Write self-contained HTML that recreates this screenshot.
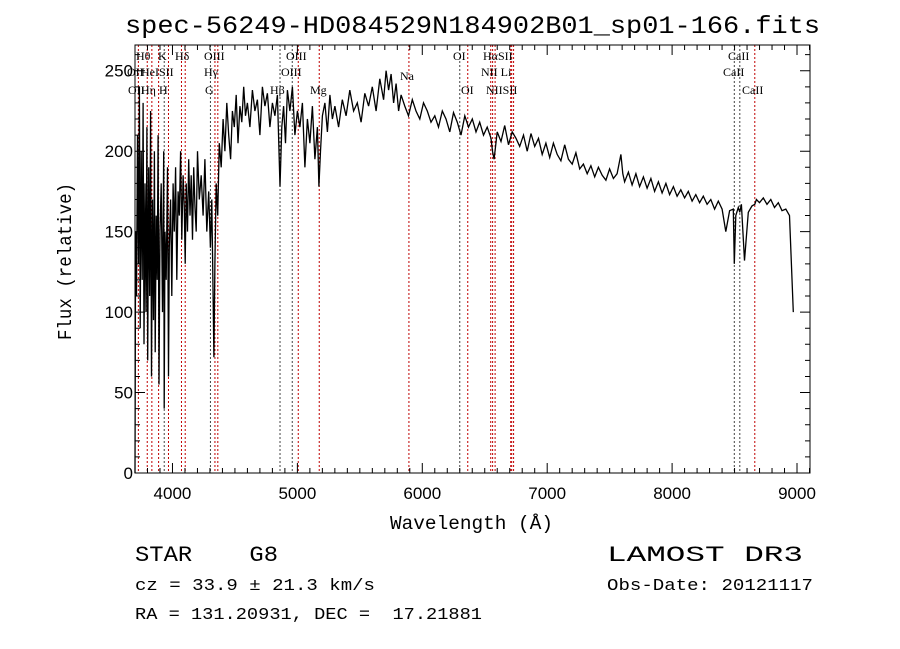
<!DOCTYPE html>
<html><head><meta charset="utf-8"><style>
body{margin:0;background:#fff;}
svg{display:block;}
text{white-space:pre;}
</style></head><body>
<svg id="chart" width="900" height="649" xmlns="http://www.w3.org/2000/svg" font-family="Liberation Sans, sans-serif">
<rect width="900" height="649" fill="#fff"/>
<text x="125" y="33" font-size="25" font-family="Liberation Mono, monospace" textLength="695" lengthAdjust="spacingAndGlyphs">spec-56249-HD084529N184902B01_sp01-166.fits</text>
<text x="390" y="529" font-size="19" font-family="Liberation Mono, monospace" textLength="163" lengthAdjust="spacingAndGlyphs">Wavelength (Å)</text>
<text transform="translate(71,340) rotate(-90)" font-size="19" font-family="Liberation Mono, monospace" textLength="157" lengthAdjust="spacingAndGlyphs">Flux (relative)</text>
<g id="lines"></g>
<g id="labels" font-family="Liberation Serif, serif" font-size="12"></g>
<path id="spec" fill="none" stroke="#000" stroke-width="1.3"/>
<g id="axes"></g>
<text x="135" y="561" font-size="22" font-family="Liberation Mono, monospace" textLength="143" lengthAdjust="spacingAndGlyphs">STAR    G8</text>
<text x="135" y="590" font-size="17" font-family="Liberation Mono, monospace" textLength="240" lengthAdjust="spacingAndGlyphs">cz = 33.9 ± 21.3 km/s</text>
<text x="135" y="619" font-size="17" font-family="Liberation Mono, monospace" textLength="347" lengthAdjust="spacingAndGlyphs">RA = 131.20931, DEC =  17.21881</text>
<text x="607" y="561" font-size="22" font-family="Liberation Mono, monospace" textLength="196" lengthAdjust="spacingAndGlyphs">LAMOST DR3</text>
<text x="607" y="590" font-size="17" font-family="Liberation Mono, monospace" textLength="206" lengthAdjust="spacingAndGlyphs">Obs-Date: 20121117</text>
</svg>
<script>
const wave = [3700,3705,3712,3720,3728,3735,3742,3750,3758,3765,3772,3780,3788,3795,3802,3810,3818,3825,3832,3840,3848,3855,3862,3870,3878,3885,3892,3900,3910,3920,3930,3934,3940,3950,3960,3968,3975,3985,3995,4005,4015,4025,4035,4045,4055,4065,4075,4085,4095,4102,4110,4120,4130,4140,4150,4160,4170,4180,4190,4200,4215,4230,4245,4260,4275,4290,4304,4315,4325,4332,4340,4350,4362,4375,4390,4405,4420,4435,4450,4465,4480,4495,4510,4525,4540,4555,4570,4585,4600,4620,4640,4660,4680,4700,4720,4740,4760,4780,4800,4820,4840,4861,4875,4890,4905,4920,4940,4960,4980,5000,5020,5040,5060,5080,5100,5120,5140,5160,5172,5185,5200,5220,5240,5260,5280,5300,5330,5360,5390,5420,5450,5480,5510,5540,5570,5600,5630,5660,5690,5710,5730,5750,5770,5790,5810,5830,5860,5890,5920,5950,5980,6010,6040,6070,6100,6130,6160,6190,6220,6250,6280,6310,6340,6370,6400,6430,6460,6490,6520,6550,6562,6575,6600,6630,6660,6690,6720,6750,6780,6810,6840,6870,6900,6930,6960,6990,7020,7050,7080,7110,7140,7170,7200,7230,7260,7290,7320,7350,7380,7410,7440,7470,7500,7530,7560,7590,7605,7620,7650,7680,7710,7740,7770,7800,7830,7860,7890,7920,7950,7980,8010,8040,8070,8100,8130,8160,8190,8220,8250,8280,8310,8340,8370,8400,8430,8460,8490,8498,8510,8530,8542,8555,8580,8610,8640,8662,8675,8700,8730,8760,8790,8820,8850,8880,8910,8940,8970,8990,9000];
const flux = [0,150,110,210,130,240,90,200,120,230,80,180,100,215,70,190,110,225,60,170,95,200,75,160,120,210,55,150,180,100,200,40,150,120,190,60,140,170,110,180,150,190,120,175,160,200,145,185,165,130,180,150,195,160,185,145,190,165,150,200,170,185,160,195,150,175,140,170,110,72,130,180,160,205,190,220,200,230,210,195,225,215,235,205,228,218,240,222,230,215,238,225,232,210,240,228,236,215,230,222,235,178,215,228,205,238,225,240,210,225,215,230,190,220,205,228,195,215,178,200,222,230,212,235,220,228,215,232,222,238,225,230,218,236,228,240,225,245,232,250,238,248,230,242,225,235,228,222,232,225,220,230,225,218,222,215,225,220,212,224,218,210,222,215,220,212,218,210,215,208,200,195,212,206,216,204,212,208,203,210,200,211,203,208,198,205,196,205,198,194,204,195,192,199,189,192,186,191,184,190,185,182,189,183,186,198,186,181,187,179,186,178,184,177,183,175,181,174,180,173,178,172,176,171,175,169,173,168,172,167,170,164,169,164,150,163,164,130,160,165,162,167,132,162,166,167,170,168,171,167,170,165,168,163,164,160,100];
const lineWaves = [3727,3798,3835,3889,3934,3968,4072,4102,4304,4340,4363,4861,4959,5007,5175,5893,6300,6364,6548,6563,6583,6708,6716,6731,8498,8542,8662];
const lineColors = ["r","r","r","r","k","r","r","r","k","r","r","k","k","r","r","r","k","r","r","r","r","r","r","r","k","k","r"];
const labelText = ["Hθ","K","Hδ","OIII","OIII","OI","HαSII","CaII","OII","HeISII","Hγ","OIII","Na","NII Li","CaII","OII","Hη H","G","Hβ","Mg","OI","NIISII","CaII"];
const xTicks = [4000,5000,6000,7000,8000,9000];
const yTicks = [0,50,100,150,200,250];

const X0=135,X1=810,Y0=45,Y1=473;
const xmin=3700,xmax=9104,ymin=0,ymax=266;
const sx=w=>X0+(w-xmin)/(xmax-xmin)*(X1-X0);
const sy=f=>Y1-(f-ymin)/(ymax-ymin)*(Y1-Y0);
const NS="http://www.w3.org/2000/svg";
function mk(tag,attrs,parent){const e=document.createElementNS(NS,tag);for(const k in attrs)e.setAttribute(k,attrs[k]);parent.appendChild(e);return e;}

const gl=document.getElementById('lines');
lineWaves.forEach((w,i)=>{
  const l=mk('line',{x1:sx(w),x2:sx(w),y1:Y0,y2:Y1,stroke:lineColors[i]==="r"?"#c00000":"#444","stroke-width":1,"stroke-dasharray":"2,2"},gl);
  
  
});

const labelPos=[[136,60],[158,60],[175,60],[204,60],[286,60],[453,60],[483,60],[728,60],
  [127,76],[141,76],[204,76],[281,76],[400,80],[481,76],[723,76],
  [128,94],[141,94],[205,94],[270,94],[310,94],[461,94],[486,94],[742,94]];
const glab=document.getElementById('labels');
labelText.forEach((t,i)=>{
  const e=mk('text',{x:labelPos[i][0],y:labelPos[i][1]},glab);
  e.textContent=t;
  
  
});

let d="";
wave.forEach((w,i)=>{d+=(i?"L":"M")+sx(w).toFixed(1)+","+sy(flux[i]).toFixed(1);});
document.getElementById('spec').setAttribute('d',d);

const ga=document.getElementById('axes');
const fr=mk('rect',{x:X0,y:Y0,width:X1-X0,height:Y1-Y0,fill:"none",stroke:"#000","stroke-width":1},ga);


let td="";
for(let w=3800;w<=9100;w+=100){const x=sx(w);const L=(w%1000===0)?10:5;td+=`M${x},${Y1}v${-L}M${x},${Y0}v${L}`;}
for(let f=0;f<=260;f+=10){const y=sy(f);const L=(f%50===0)?10:5;td+=`M${X0},${y}h${L}M${X1},${y}h${-L}`;}
const tp=mk('path',{d:td,stroke:"#000","stroke-width":1,fill:"none"},ga);


xTicks.forEach(w=>{
  const e=mk('text',{x:sx(w),y:Y1+26,"font-size":17,"text-anchor":"middle"},ga);
  e.textContent=w;
  
  
});
yTicks.forEach(f=>{
  const e=mk('text',{x:X0-2,y:sy(f)+6,"font-size":17,"text-anchor":"end"},ga);
  e.textContent=f;
  
  
});
</script>
</body></html>
